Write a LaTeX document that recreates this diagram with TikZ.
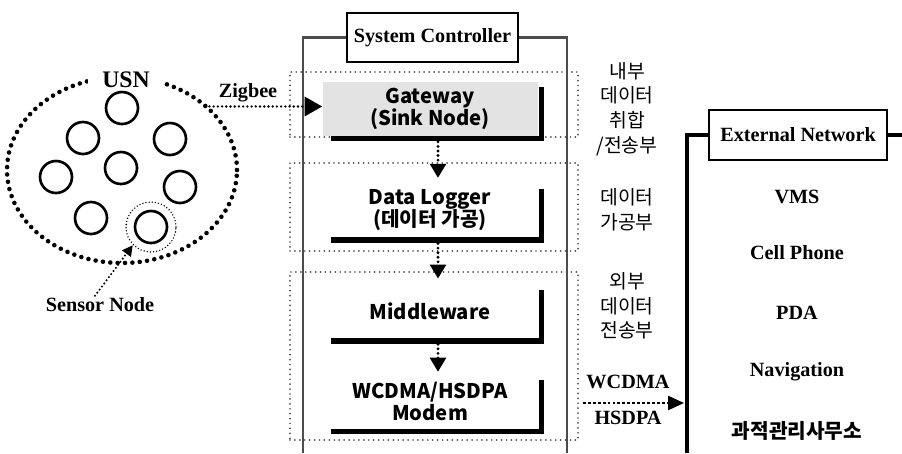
\documentclass[tikz,border=0pt]{standalone}
\usepackage{fontspec}
\setmainfont{Liberation Serif}
\newfontfamily\krfont{Noto Sans CJK KR}
\usepackage{tikz}
\usetikzlibrary{arrows.meta,positioning,calc,shapes.geometric}

\begin{document}
\begin{tikzpicture}[
    lbl/.style={font=\fontsize{11.5}{13}\selectfont\bfseries, inner sep=1pt},
    krlbl/.style={font=\krfont\fontsize{11}{14}\selectfont, align=center, inner sep=1pt},
    titlebox/.style={draw, line width=1.3pt, font=\fontsize{11.5}{13}\selectfont\bfseries, minimum height=0.98cm, inner sep=4pt},
    block/.style={minimum width=4.3cm, minimum height=1.08cm, align=center, inner sep=1pt, font=\krfont\bfseries\fontsize{11.5}{12.5}\selectfont},
    bar/.style={line width=3.2pt},
    group/.style={draw=gray!60!black, line width=1.1pt, dash pattern=on 0pt off 2.8pt, line cap=round, minimum width=5.76cm},
    frame/.style={draw=gray!60!black, line width=1.3pt},
    mote/.style={draw, circle, line width=1.5pt, minimum size=0.64cm},
    flow/.style={line width=1.8pt, dash pattern=on 0pt off 2.6pt, line cap=round, -{Triangle[length=8pt,width=9pt]}},
    netline/.style={line width=1.8pt}
  ]
    \useasboundingbox (0,0) rectangle (18.04,-9.06);
    % USN side
    \node[draw, ellipse, minimum width=4.6cm, minimum height=3.72cm, line width=2.6pt, dash pattern=on 0pt off 4.2pt, line cap=round] (usn) at (2.44,-3.40) {};
    \node[lbl, font=\fontsize{13.5}{15}\selectfont\bfseries, fill=white, inner xsep=8pt] (usnlbl) at (2.52,-1.60) {USN};
    \node[mote] (m1) at (2.44,-2.16) {};
    \node[mote] (m2) at (1.66,-2.76) {};
    \node[mote] (m3) at (3.40,-2.78) {};
    \node[mote] (m4) at (2.42,-3.36) {};
    \node[mote] (m5) at (1.12,-3.54) {};
    \node[mote] (m6) at (3.60,-3.74) {};
    \node[mote] (m7) at (1.82,-4.36) {};
    \node[mote] (m8) at (3.02,-4.54) {};
    \node[draw, circle, minimum size=1.0cm, line width=0.9pt, dash pattern=on 0pt off 1.8pt, line cap=round] (ring) at (m8) {};
    \node[lbl] (snlbl) at (2.0,-6.10) {Sensor Node};
    \draw[line width=1.3pt, dash pattern=on 0pt off 2.2pt, line cap=round, -{Triangle[length=6pt,width=6pt]}] ([xshift=-0.1cm]snlbl.north) -- (ring.225);
    \node[lbl] (zb) at (4.96,-1.86) {Zigbee};

    % system controller
    \node[titlebox] (sc) at (8.65,-0.75) {System Controller};
    \coordinate (fl) at (6.06,-9.06);
    \coordinate (fr) at (11.34,-9.06);
    \draw[frame] (fl) |- (sc.west);
    \draw[frame] (sc.east) -| (fr);
    \node[group, minimum height=1.30cm] (g1) at (8.68,-2.09) {};
    \node[group, minimum height=1.76cm] (g2) at (8.68,-4.14) {};
    \node[group, minimum height=3.36cm] (g3) at (8.68,-7.12) {};

    \node[block, fill=gray!22] (gw) at (8.6,-2.17) {Gateway\\(Sink Node)};
    \node[block, below=0.94cm of gw] (dl) {Data Logger\\(데이터 가공)};
    \node[block, below=0.92cm of dl] (mw) {Middleware};
    \node[block, below=0.72cm of mw] (modem) {WCDMA/HSDPA\\Modem};
    \foreach \b in {gw,dl,mw,modem}
      \draw[bar] ($(\b.south west)+(0.18,-0.05)$) -| ($(\b.north east)+(0.07,-0.12)$);
    \draw[flow, shorten <=0.12cm, shorten >=0.1cm] ([xshift=0.16cm]gw.south) -- ([xshift=0.16cm]dl.north);
    \draw[flow, shorten <=0.12cm, shorten >=0.1cm] ([xshift=0.16cm]dl.south) -- ([xshift=0.16cm]mw.north);
    \draw[flow, shorten <=0.12cm, shorten >=0.05cm] ([xshift=0.16cm]mw.south) -- ([xshift=0.16cm]modem.north);
    \draw[line width=1.5pt, dash pattern=on 0pt off 2.4pt, line cap=round, -{Triangle[length=10pt,width=11pt]}] (usn.36) -- (usn.36 -| gw.west);

    \node[krlbl] (k1) at (12.54,-2.18) {내부\\데이터\\취합\\/전송부};
    \node[krlbl] (k2) at (12.54,-4.20) {데이터\\가공부};
    \node[krlbl] (k3) at (12.54,-6.12) {외부\\데이터\\전송부};

    % external network
    \coordinate (netbot) at (13.74,-9.06);
    \coordinate (rightend) at (18.04,-2.70);
    \coordinate (wc) at (11.66,-8.06);
    \node[titlebox, minimum width=3.56cm, minimum height=1.0cm] (en) at (15.96,-2.70) {External Network};
    \draw[netline] (netbot) |- (en.west);
    \draw[netline] (en.east) -- (rightend);
    \draw[line width=1.1pt, dash pattern=on 1.6pt off 1.2pt, -{Triangle[length=9pt,width=8pt]}, shorten >=0.06cm] (wc) -- (wc -| netbot);
    \node[lbl] (wcdma) at (12.56,-7.64) {WCDMA};
    \node[lbl] (hsdpa) at (12.56,-8.36) {HSDPA};
    \node[lbl] (vms) at (15.94,-3.94) {VMS};
    \node[lbl] (cell) at (15.94,-5.06) {Cell Phone};
    \node[lbl] (pda) at (15.94,-6.26) {PDA};
    \node[lbl] (navi) at (15.94,-7.44) {Navigation};
    \node[lbl, font=\krfont\bfseries\fontsize{11.5}{13}\selectfont] (office) at (15.94,-8.62) {과적관리사무소};
  \end{tikzpicture}
\end{document}
